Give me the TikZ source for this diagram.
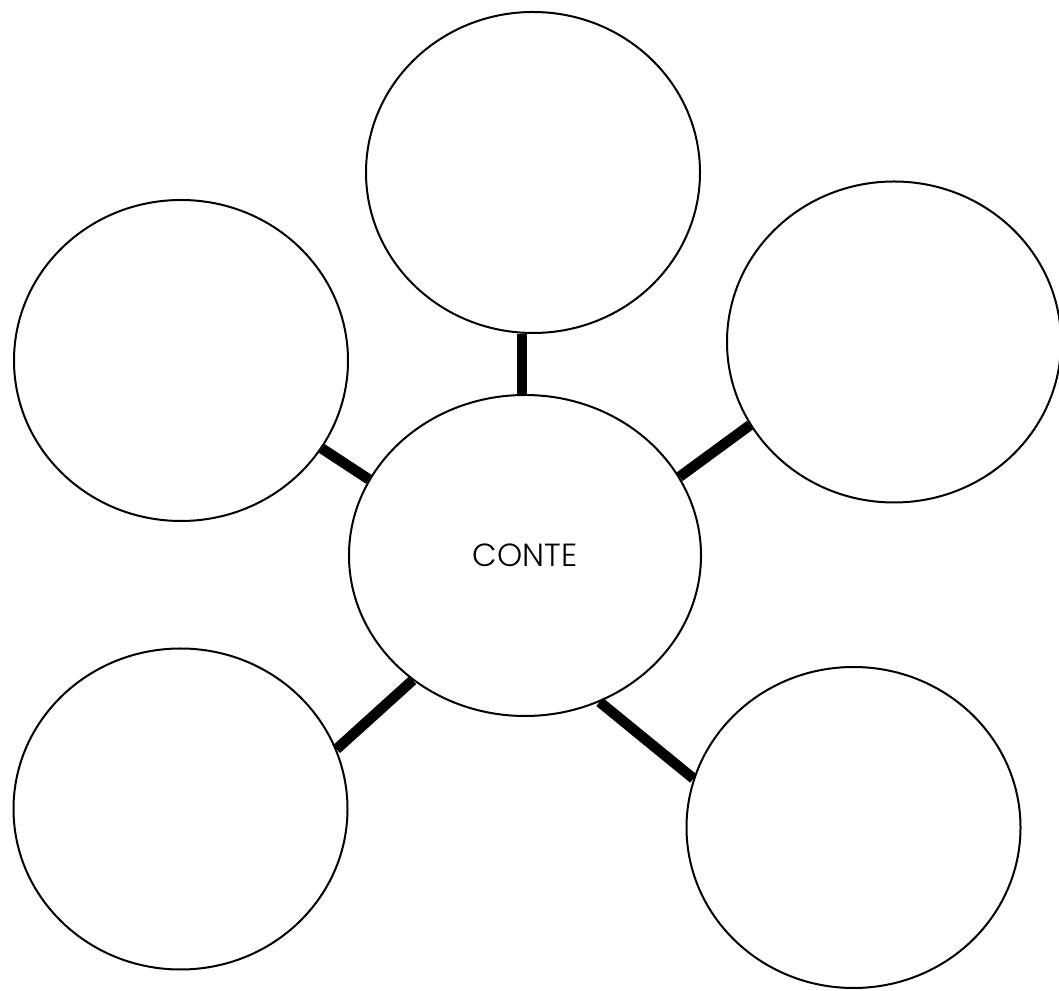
\documentclass[tikz,border=0pt]{standalone}
\usepackage{fontspec}
\newfontfamily\contefont{Poppins Light}
\usepackage{tikz}
\usetikzlibrary{shapes.geometric}

\begin{document}
\begin{tikzpicture}[
  x=1pt, y=1pt,
  bubble/.style={
    ellipse, draw, line width=2pt, inner sep=0pt,
    minimum width=334pt, minimum height=321pt
  },
  hub/.style={
    bubble, minimum width=352pt,
    font=\contefont\fontsize{32}{38}\selectfont
  },
  spoke/.style={line width=10.5pt}
]
\useasboundingbox (0,0) rectangle (1059,990);

\node[hub] (conte) at (525,434.5) {CONTE};

\node[bubble] (top) at (533,817.5) {};
\node[bubble] (leftup) at (181,629.5) {};
\node[bubble] (rightup) at (894,648) {};
\node[bubble] (leftlow) at (180.5,181) {};
\node[bubble] (rightlow) at (853.5,162.5) {};

\draw[spoke] (conte.91.4) -- (conte.91.4 |- top.south);
\draw[spoke] (leftup.-32.8) -- (conte.154);
\draw[spoke] (rightup.210.6) -- (conte.27.2);
\draw[spoke] (leftlow.21.6) -- (conte.228.5);
\draw[spoke] (rightlow.163.6) -- (conte.-63.8);

\end{tikzpicture}
\end{document}
